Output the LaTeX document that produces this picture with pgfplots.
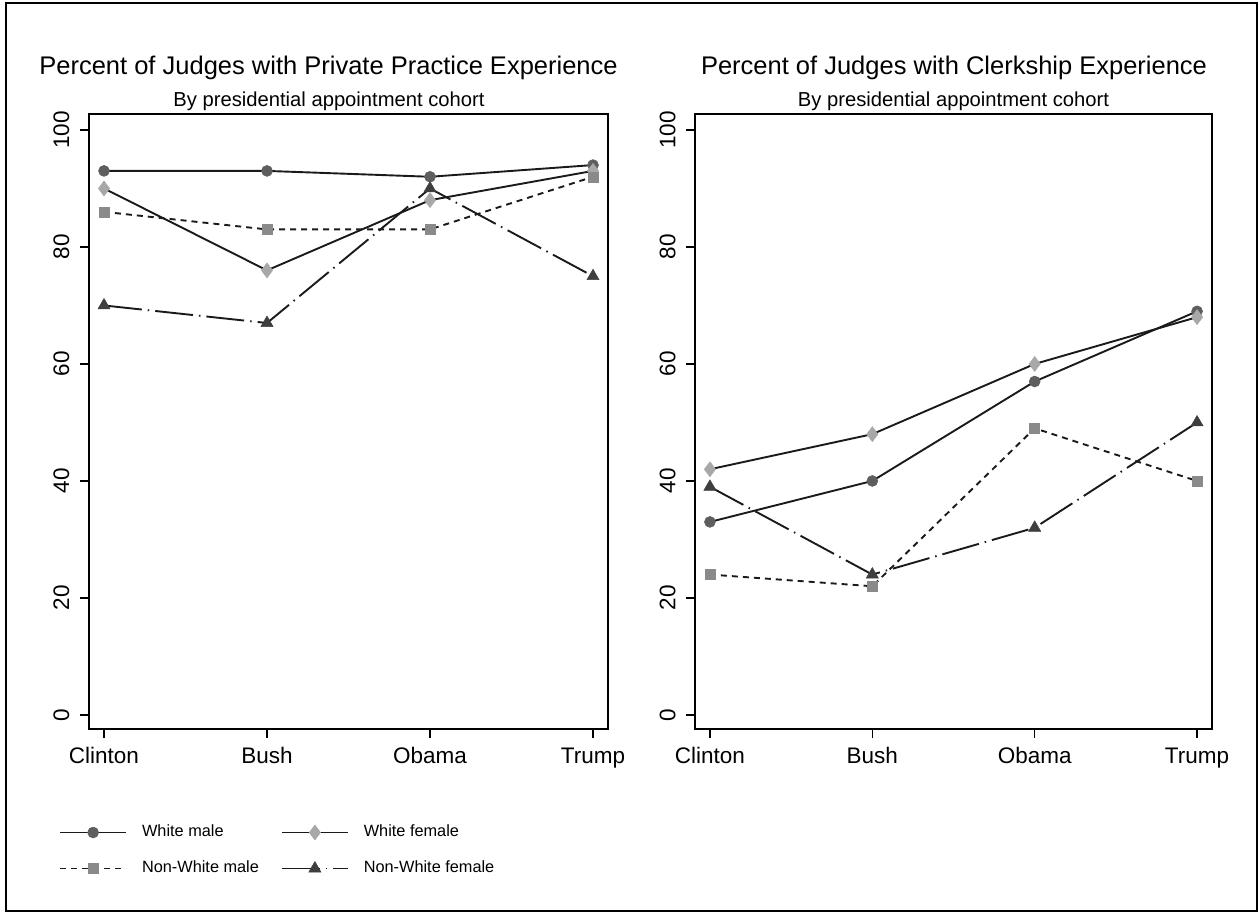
\documentclass[border=0pt]{standalone}
\usepackage{fontspec}
\setmainfont{Liberation Sans}
\usepackage{pgfplots}
\pgfplotsset{compat=1.18}

\definecolor{cwm}{HTML}{5E5E5E}
\definecolor{cwf}{HTML}{A8A8A8}
\definecolor{cnwm}{HTML}{8A8A8A}
\definecolor{cnwf}{HTML}{3E3E3E}
\definecolor{cln}{HTML}{1A1A1A}

\pgfplotsset{
 judges/.style={
  scale only axis, width=519pt, height=615pt,
  anchor=south west,
  xmin=-0.092, xmax=3.092, ymin=-2.4, ymax=102.73,
  xtick={0,1,2,3}, xticklabels={Clinton,Bush,Obama,Trump},
  ytick={0,20,40,60,80,100},
  tick align=outside, major tick length=9pt,
  xtick pos=bottom, ytick pos=left,
  axis line style={line width=1.4pt, black},
  tick style={line width=1.4pt, black},
  tick label style={font=\fontsize{22.5}{26}\selectfont},
  /pgf/number format/assume math mode=true,
  yticklabel style={rotate=90, anchor=south, yshift=7pt},
  xticklabel style={yshift=-6pt},
  clip=false,
 },
 swm/.style={cln, line width=1.9pt, mark=*, mark size=5.5pt, mark options={solid, fill=cwm, draw=cwm, line width=0.5pt}},
 swf/.style={cln, line width=1.9pt, mark=diamond*, mark size=7.5pt, mark options={solid, fill=cwf, draw=cwf, line width=0.5pt}},
 snwm/.style={cln, line width=1.9pt, dash pattern=on 6pt off 5pt, mark=square*, mark size=5pt, mark options={solid, fill=cnwm, draw=cnwm, line width=0.5pt}},
 snwf/.style={cln, line width=1.9pt, dash pattern=on 38pt off 6pt on 1.5pt off 6pt, mark=triangle*, mark size=7pt, mark options={solid, fill=cnwf, draw=cnwf, line width=0.5pt}},
}

\begin{document}
\begin{tikzpicture}
\useasboundingbox (0pt,0pt) rectangle (1259pt,913pt);
\draw[line width=2pt, black] (6pt,2pt) rectangle (1257pt,910pt);

% titles
\node[anchor=base, font=\fontsize{25.5}{30}\selectfont] at (328.5pt,838pt) {Percent of Judges with Private Practice Experience};
\node[anchor=base, font=\fontsize{20.2}{24}\selectfont] at (329pt,806pt) {By presidential appointment cohort};
\node[anchor=base, font=\fontsize{25.5}{30}\selectfont] at (954pt,838pt) {Percent of Judges with Clerkship Experience};
\node[anchor=base, font=\fontsize{20.2}{24}\selectfont] at (953.5pt,806pt) {By presidential appointment cohort};

% left panel
\begin{axis}[judges, at={(89pt,184pt)},
  legend columns=2,
  legend cell align=left,
  legend style={draw=none, fill=none, at={(-0.0578,-0.155)}, anchor=north west,
    inner xsep=0pt, inner ysep=0pt,
    nodes={inner sep=0pt, text height=12pt, text depth=4pt, font=\fontsize{16.3}{19}\selectfont},
    row sep=20pt,
    /tikz/every odd column/.append style={column sep=15pt},
    /tikz/every even column/.append style={column sep=22pt}},
  legend image code/.code={\draw[mark repeat=2,mark phase=2] plot coordinates {(0pt,0pt) (33pt,0pt) (66pt,0pt)};},
]
\addplot[swm] coordinates {(0,93) (1,93) (2,92) (3,94)};
\addlegendentry{White male}
\addplot[swf] coordinates {(0,90) (1,76) (2,88) (3,93)};
\addlegendentry{White female}
\addplot[snwm] coordinates {(0,86) (1,83) (2,83) (3,92)};
\addlegendentry{Non-White male}
\addplot[snwf] coordinates {(0,70) (1,67) (2,90) (3,75)};
\addlegendentry{Non-White female}
\end{axis}

% right panel
\begin{axis}[judges, at={(695pt,184pt)}, width=517pt]
\addplot[swm] coordinates {(0,33) (1,40) (2,57) (3,69)};
\addplot[swf] coordinates {(0,42) (1,48) (2,60) (3,68)};
\addplot[snwm] coordinates {(0,24) (1,22) (2,49) (3,40)};
\addplot[snwf] coordinates {(0,39) (1,24) (2,32) (3,50)};
\end{axis}
\end{tikzpicture}
\end{document}
